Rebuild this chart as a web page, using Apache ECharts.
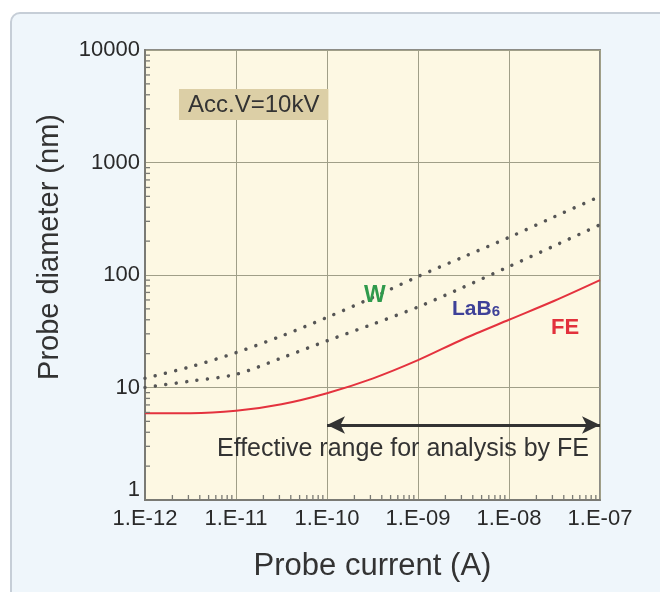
<!DOCTYPE html>
<html>
<head>
<meta charset="utf-8">
<script src="https://cdn.jsdelivr.net/npm/echarts@6/dist/echarts.min.js"></script>
<style>
html,body{margin:0;padding:0;background:#ffffff;}
#chart{width:660px;height:592px;}
</style>
</head>
<body>
<div id="chart"></div>
<script>
// ---- data ----
var current = [1e-12, 3.16e-12, 1e-11, 3.16e-11, 1e-10, 3.16e-10, 1e-9, 3.16e-9, 1e-8, 3.16e-8, 1e-7];
var diamFE   = [5.9, 5.9, 6.2, 7.1, 8.9, 12, 17.5, 27, 40, 59, 90];
var diamW    = [12.1, 15.3, 20.4, 28.7, 42, 63, 97, 145, 216, 330, 500];
var diamLaB6 = [10, 11.4, 13.1, 18.3, 26, 36.5, 52, 78, 119, 182, 280];
var effectiveRange = [1e-10, 1e-7];
var xTickLabels = ['1.E-12', '1.E-11', '1.E-10', '1.E-09', '1.E-08', '1.E-07'];
var yTickLabels = ['1', '10', '100', '1000', '10000'];
var minorMultipliers = [2, 3, 4, 5, 6, 7, 8, 9];

var X_MIN = 1e-12, X_MAX = 1e-7, Y_MIN = 1, Y_MAX = 10000;
var FONT = "'Liberation Sans', Arial, Helvetica, sans-serif";

function pairs(xs, ys) { return xs.map(function (x, i) { return [x, ys[i]]; }); }

var xMinor = [], yMinor = [];
for (var e = -12; e < -7; e++) minorMultipliers.forEach(function (m) { xMinor.push([m * Math.pow(10, e), Y_MIN]); });
for (var d = 0; d < 4; d++) minorMultipliers.forEach(function (m) { yMinor.push([X_MIN, m * Math.pow(10, d)]); });

var chart = echarts.init(document.getElementById('chart'), null, {renderer: 'canvas'});

var dotted = {color: '#555555', width: 3.5, type: [0.01, 10.5], cap: 'round'};

var option = {
  animation: false,
  backgroundColor: '#ffffff',
  grid: {left: 145, right: 60, top: 50, bottom: 92, show: true,
         backgroundColor: '#fdf8e3', borderColor: '#8c8c86', borderWidth: 2},
  xAxis: {
    type: 'log', logBase: 10, min: X_MIN, max: X_MAX,
    name: 'Probe current (A)', nameLocation: 'middle', nameGap: 51,
    nameTextStyle: {fontFamily: FONT, fontSize: 31, color: '#333333'},
    axisLine: {show: true, lineStyle: {color: '#7a7a74', width: 2}},
    axisTick: {show: false},
    splitLine: {show: true, lineStyle: {color: '#a09f88', width: 1}},
    minorTick: {show: false}, minorSplitLine: {show: false},
    axisLabel: {fontFamily: FONT, fontSize: 22, color: '#2a2a2a', margin: 8,
      formatter: function (v) { return xTickLabels[Math.round(Math.log10(v)) + 12] || ''; }}
  },
  yAxis: {
    type: 'log', logBase: 10, min: Y_MIN, max: Y_MAX,
    axisLine: {show: true, lineStyle: {color: '#7a7a74', width: 2}},
    axisTick: {show: false},
    splitLine: {show: true, lineStyle: {color: '#a09f88', width: 1}},
    axisLabel: {fontFamily: FONT, fontSize: 22, color: '#2a2a2a', margin: 5,
      formatter: function (v) {
        var i = Math.round(Math.log10(v));
        return i === 0 ? '{up|' + yTickLabels[0] + '}' : yTickLabels[i];
      },
      rich: {up: {fontFamily: FONT, fontSize: 22, color: '#2a2a2a', padding: [0, 0, 20, 0]}}}
  },
  graphic: [
    {type: 'rect', z: -100, silent: true,
     shape: {x: 11, y: 13, width: 720, height: 640, r: 9},
     style: {fill: '#eff6fb', stroke: '#c6ced7', lineWidth: 2}},
    {type: 'text', x: 50, y: 247, rotation: Math.PI / 2, z: 100, silent: true,
     style: {text: 'Probe diameter (nm)', font: '29px ' + FONT, fill: '#333333',
             align: 'center', verticalAlign: 'middle'}},
    {type: 'text', left: 179, top: 89, z: 100, silent: true,
     style: {text: 'Acc.V=10kV', font: '24px ' + FONT, fill: '#333333',
             backgroundColor: '#dccfa6', padding: [4, 9, 3, 9]}},
    {type: 'text', left: 217, top: 437, z: 100, silent: true,
     style: {text: 'Effective range for analysis by FE', font: '25px ' + FONT, fill: '#333333'}},
    {type: 'text', left: 364, top: 284, z: 100, silent: true,
     style: {text: 'W', font: 'bold 23px ' + FONT, fill: '#2f9a4c'}},
    {type: 'text', left: 452, top: 299, z: 100, silent: true,
     style: {rich: {a: {font: 'bold 21px ' + FONT, fill: '#3e4198'}, b: {font: 'bold 15px ' + FONT, fill: '#3e4198', padding: [4, 0, 0, 0]}},
             text: '{a|LaB}{b|6}'}},
    {type: 'text', left: 551, top: 317, z: 100, silent: true,
     style: {text: 'FE', font: 'bold 22px ' + FONT, fill: '#e2313c'}}
  ],
  series: [
    {name: 'W', type: 'line', data: pairs(current, diamW), smooth: 0.3, symbol: 'none',
     lineStyle: dotted, z: 3},
    {name: 'LaB6', type: 'line', data: pairs(current, diamLaB6), smooth: 0.3, symbol: 'none',
     lineStyle: dotted, z: 3},
    {name: 'FE', type: 'line', data: pairs(current, diamFE), smooth: 0.3, symbol: 'none',
     lineStyle: {color: '#e4323e', width: 2}, z: 4,
     markLine: {silent: true, symbol: ['arrow', 'arrow'], symbolSize: [13, 18], precision: 12,
       label: {show: false},
       lineStyle: {color: '#333333', width: 3, type: 'solid'},
       data: [[{coord: [effectiveRange[0], 4.64]}, {coord: [effectiveRange[1], 4.64]}]]}},
    {name: 'xminor', type: 'custom', data: xMinor, silent: true, z: 5,
     renderItem: function (params, api) {
       var p = api.coord([api.value(0), api.value(1)]);
       return {type: 'line', shape: {x1: p[0], y1: p[1], x2: p[0], y2: p[1] - 5},
               style: {stroke: '#7a7a74', lineWidth: 1.3}};
     }},
    {name: 'yminor', type: 'custom', data: yMinor, silent: true, z: 5,
     renderItem: function (params, api) {
       var p = api.coord([api.value(0), api.value(1)]);
       return {type: 'line', shape: {x1: p[0], y1: p[1], x2: p[0] + 5, y2: p[1]},
               style: {stroke: '#7a7a74', lineWidth: 1.3}};
     }}
  ]
};
chart.setOption(option);
</script>
</body>
</html>
